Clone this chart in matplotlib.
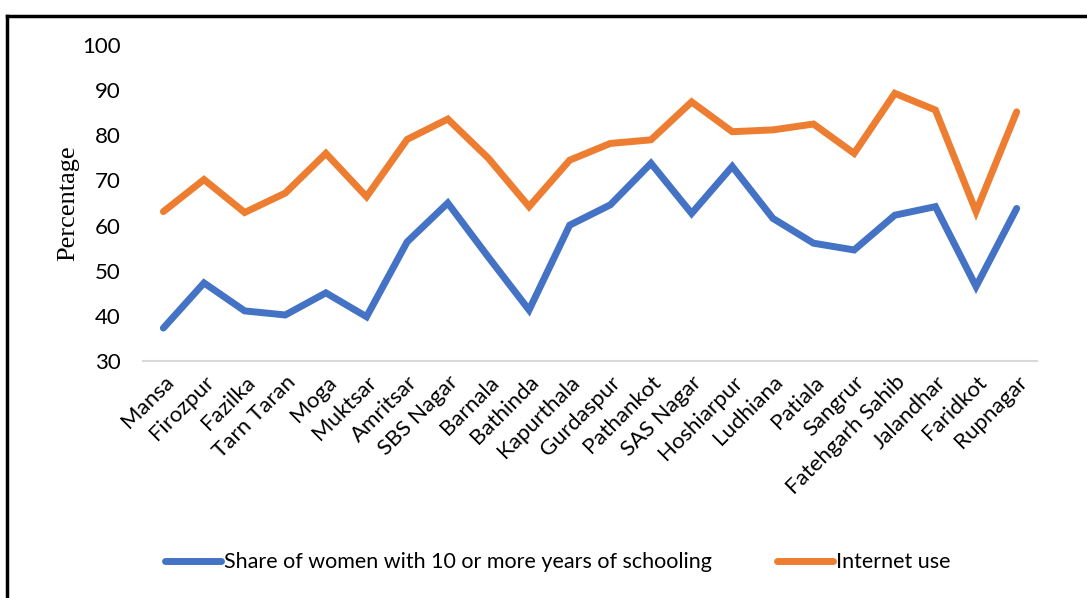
import matplotlib.pyplot as plt
from matplotlib.lines import Line2D

# district-wise shares (%)
districts = ["Mansa", "Firozpur", "Fazilka", "Tarn Taran", "Moga", "Muktsar",
             "Amritsar", "SBS Nagar", "Barnala", "Bathinda", "Kapurthala",
             "Gurdaspur", "Pathankot", "SAS Nagar", "Hoshiarpur", "Ludhiana",
             "Patiala", "Sangrur", "Fatehgarh Sahib", "Jalandhar", "Faridkot",
             "Rupnagar"]
schooling = [37.3, 47.3, 41.1, 40.2, 45.1, 39.8, 56.4, 65.0, 53.0, 41.3, 60.1,
             64.6, 73.8, 62.7, 73.1, 61.6, 56.1, 54.6, 62.3, 64.2, 46.5, 63.8]
internet = [63.1, 70.2, 62.9, 67.2, 76.0, 66.4, 79.1, 83.6, 74.9, 64.2, 74.5,
            78.2, 79.0, 87.4, 80.8, 81.2, 82.5, 76.0, 89.3, 85.6, 63.1, 85.2]

BLUE = "#4472C4"
ORANGE = "#ED7D31"

fig = plt.figure(figsize=(10.87, 5.98), dpi=100)
ax = fig.add_axes([0.1316, 0.3963, 0.8224, 0.5284])

x = range(len(districts))
ax.plot(x, schooling, color=BLUE, lw=5, solid_capstyle="round",
        solid_joinstyle="miter", label="Share of women with 10 or more years of schooling")
ax.plot(x, internet, color=ORANGE, lw=5, solid_capstyle="round",
        solid_joinstyle="miter", label="Internet use")

ax.set_xlim(-0.5, len(districts) - 0.5)
ax.set_ylim(30, 100)
ax.set_yticks(range(30, 101, 10))
ax.set_xticks(list(x))
ax.set_xticklabels(districts, rotation=45, ha="right", rotation_mode="anchor",
                   fontsize=16, family="Lato")
for lbl in ax.get_yticklabels():
    lbl.set_family("Lato")
    lbl.set_fontsize(16)
ax.tick_params(axis="both", length=0, colors="#000000")
ax.tick_params(axis="y", pad=16)
ax.tick_params(axis="x", pad=8)

for side in ["top", "right", "left"]:
    ax.spines[side].set_visible(False)
ax.spines["bottom"].set_color("#D9D9D9")
ax.spines["bottom"].set_linewidth(1.5)

ax.set_ylabel("Percentage", family="Liberation Serif", fontsize=19, labelpad=2)

fig.legend(loc="center", bbox_to_anchor=(0.513, 0.06), ncol=2, frameon=False,
           prop={"family": "Lato", "size": 15.5}, handlelength=2.6,
           handletextpad=0.15, columnspacing=3.0)

# frame around the chart
fig.add_artist(Line2D([7 / 1087, 1.01], [1 - 15.5 / 598] * 2, color="black", lw=2.5))
fig.add_artist(Line2D([7 / 1087] * 2, [-0.01, 1 - 15.5 / 598], color="black", lw=2.5))

fig.savefig("out.png", dpi=100, facecolor="white")
